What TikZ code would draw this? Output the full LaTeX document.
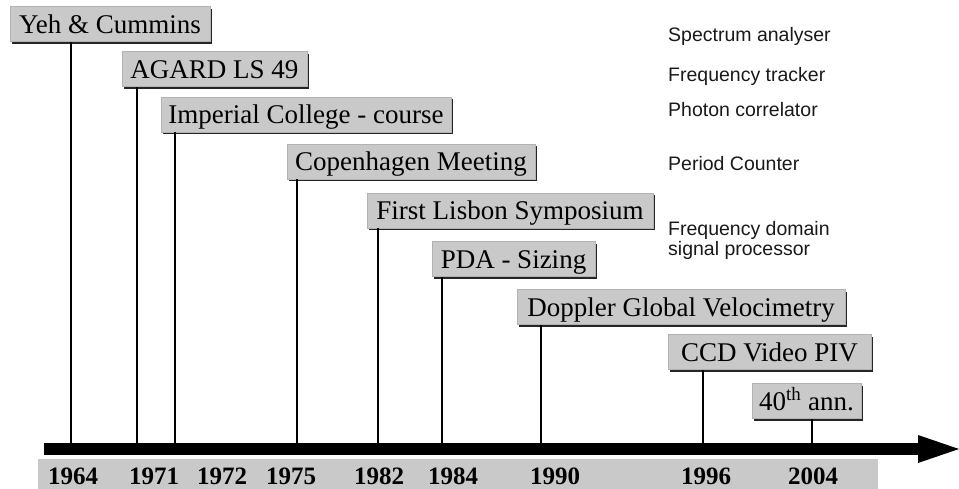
\documentclass[tikz,border=0pt]{standalone}
\usepackage{fontspec}
\setmainfont{Liberation Serif}
\newfontfamily\arialf{Liberation Sans}
\usetikzlibrary{shadows}
\begin{document}
\begin{tikzpicture}[x=1pt,y=-1pt,
  evbox/.style={fill=black!21, draw=black!30, line width=0.6pt, inner sep=0pt,
    minimum height=35pt,
    font=\fontsize{27}{28}\selectfont, text height=20pt, text depth=2pt,
    drop shadow={shadow xshift=2.4pt, shadow yshift=-2.4pt, fill=black!85, opacity=1}},
  stem/.style={line width=2.6pt, black},
  yr/.style={font=\fontsize{25}{26}\selectfont\bfseries, anchor=base, inner sep=0pt},
  tech/.style={font=\arialf\fontsize{19.5}{21}\selectfont, anchor=base west, inner sep=0pt, text=black!90}]
\useasboundingbox (0,0) rectangle (959,488);
% axis coordinates
\coordinate (a0) at (44,449);
\coordinate (a1) at (918,449);
\coordinate (tip) at (959,449);
\coordinate (t1) at (71,449);
\coordinate (t2) at (137,449);
\coordinate (t3) at (175,449);
\coordinate (t4) at (297,449);
\coordinate (t5) at (378,449);
\coordinate (t6) at (442,449);
\coordinate (t7) at (541,449);
\coordinate (t8) at (703,449);
\coordinate (t9) at (812,449);
% event boxes
\node[evbox, minimum width=200pt] (b1) at (110,24) {Yeh \& Cummins};
\node[evbox, minimum width=185pt] (b2) at (214.5,69) {AGARD LS 49};
\node[evbox, minimum width=290pt] (b3) at (306,114.5) {Imperial College - course};
\node[evbox, minimum width=248pt] (b4) at (411,161.5) {Copenhagen Meeting};
\node[evbox, minimum width=286pt] (b5) at (510,210.5) {First Lisbon Symposium};
\node[evbox, minimum width=163pt] (b6) at (513.5,259) {PDA - Sizing};
\node[evbox, minimum width=328pt] (b7) at (681,307) {Doppler Global Velocimetry};
\node[evbox, minimum width=203pt] (b8) at (769.5,352) {CCD Video PIV};
\node[evbox, minimum width=109pt] (b9) at (806.5,401) {40\textsuperscript{th} ann.};
% stems
\foreach \i in {1,...,9} {
  \draw[stem] (t\i) -- (t\i |- b\i.south);
}
% year bar
\fill[black!21] (38,459) rectangle (878,492);
\node[yr] (y1) at (73,484) {1964};
\node[yr] (y2) at (154,484) {1971};
\node[yr] (y3) at (222,484) {1972};
\node[yr] (y4) at (291,484) {1975};
\node[yr] (y5) at (379,484) {1982};
\node[yr] (y6) at (453,484) {1984};
\node[yr] (y7) at (555,484) {1990};
\node[yr] (y8) at (706,484) {1996};
\node[yr] (y9) at (813,484) {2004};
% axis
\draw[line width=12pt, black] (a0) -- (a1);
\fill[black] (918,435) -- (tip) -- (918,463) -- cycle;
% technology labels
\node[tech] (s1) at (668,41) {Spectrum analyser};
\node[tech] (s2) at (668,81) {Frequency tracker};
\node[tech] (s3) at (668,116) {Photon correlator};
\node[tech] (s4) at (668,170) {Period Counter};
\node[tech] (s5) at (668,235) {Frequency domain};
\node[tech] (s6) at (668,255) {signal processor};
\end{tikzpicture}
\end{document}
